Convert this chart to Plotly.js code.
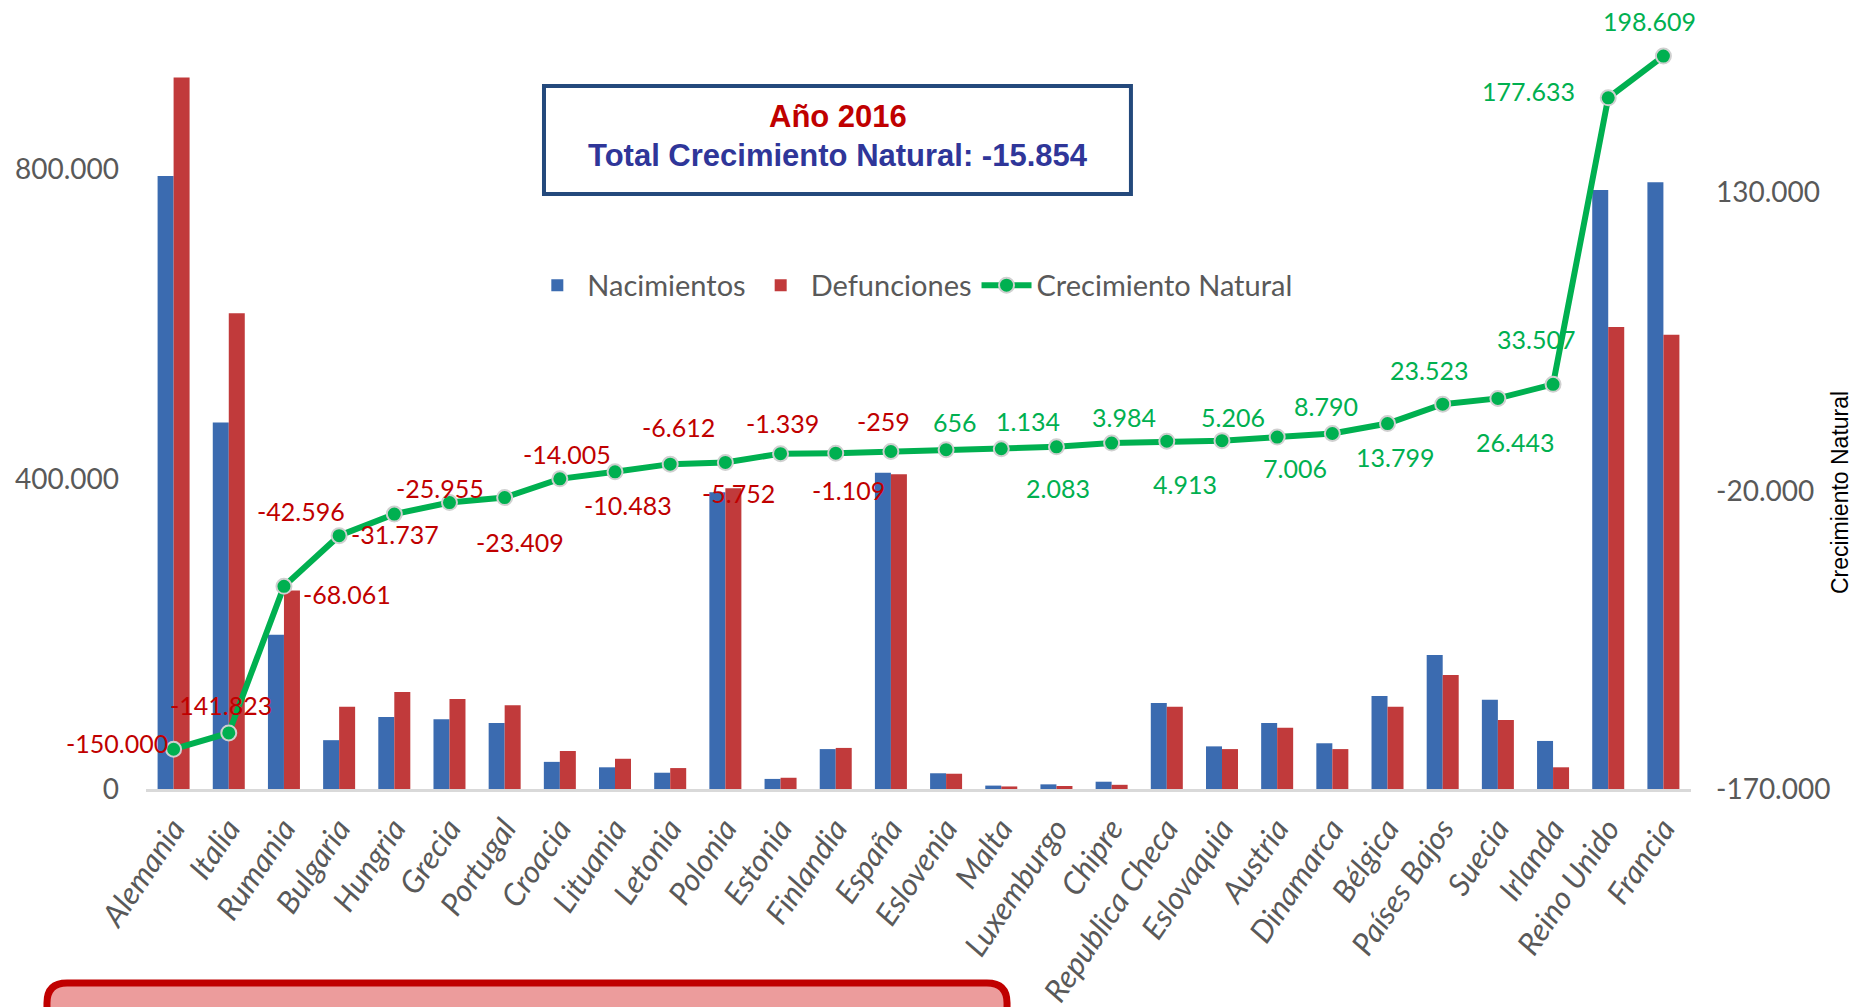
<!DOCTYPE html>
<html><head><meta charset="utf-8">
<script src="https://cdn.plot.ly/plotly-3.0.1.min.js"></script>
<style>html,body{margin:0;padding:0;background:#fff;} #chart{width:1852px;height:1007px;}</style>
</head><body><div id="chart"></div>
<script>
// ---------- data ----------
const paises = ['Alemania','Italia','Rumania','Bulgaria','Hungria','Grecia','Portugal','Croacia','Lituania','Letonia','Polonia','Estonia','Finlandia','España','Eslovenia','Malta','Luxemburgo','Chipre','Republica Checa','Eslovaquia','Austria','Dinamarca','Bélgica','Países Bajos','Suecia','Irlanda','Reino Unido','Francia'];
const nacimientos = [791000,473000,199000,63000,93000,90000,85000,35000,28000,21000,383000,13000,51500,408000,20300,4400,6000,9400,111000,55000,85000,59000,120000,173000,115000,62000,773000,783000];
const defunciones = [918000,614000,256000,106000,125000,116000,108000,49000,39000,27000,388000,14500,53000,406000,19700,3300,3900,5400,106000,51500,79000,51500,106000,147000,89000,28000,596000,586000];
const crecimiento = [-150000,-141823,-68061,-42596,-31737,-25955,-23409,-14005,-10483,-6612,-5752,-1339,-1109,-259,656,1134,2083,3984,4913,5206,7006,8790,13799,23523,26443,33507,177633,198609];
const ticksIzq = [0, 400000, 800000];
const ticksDer = [-170000, -20000, 130000];
const anio = 2016;

// style: pixel offset (dx, dy) of each data label from its point
const labelOffsets = [[-57,-6],[-8,-28],[63,8],[-38,-25],[1,20],[-9,-15],[15,44],[7,-25],[13,33],[8,-37],[13,31],[2,-31],[13,37],[-7,-31],[9,-28],[27,-28],[2,41],[12,-26],[18,43],[11,-24],[18,31],[-6,-28],[7,33],[-14,-34],[17,44],[-17,-45],[-80,-7],[-14,-35]];

function fmt(n){
  const s = Math.abs(n).toString().replace(/\B(?=(\d{3})+(?!\d))/g,'.');
  return (n<0?'-':'') + s;
}
const total = crecimiento.reduce((a,b)=>a+b,0);

const FONT = "Lato, 'Open Sans', sans-serif";
const GRAY = '#595959';
const RED = '#c00000';
const GREEN = '#00b050';

const traces = [
  {type:'bar', name:'Nacimientos', x:paises, y:nacimientos, marker:{color:'#3b6bb0'}, hoverinfo:'skip'},
  {type:'bar', name:'Defunciones', x:paises, y:defunciones, marker:{color:'#c13a3b'}, hoverinfo:'skip'},
  {type:'scatter', mode:'lines+markers', name:'Crecimiento Natural', x:paises, y:crecimiento, yaxis:'y2',
   line:{color:GREEN, width:6}, marker:{color:GREEN, size:15, line:{color:'#d0d0d0', width:2}}, hoverinfo:'skip'}
];

const annotations = crecimiento.map((v,i)=>({
  x: paises[i], y: v, xref:'x', yref:'y2', text: fmt(v), showarrow:false,
  xanchor:'center', yanchor:'middle', xshift: labelOffsets[i][0], yshift: -labelOffsets[i][1],
  font:{family:FONT, size:25, color: v<0 ? RED : GREEN}
}));
annotations.push(
  {xref:'paper', yref:'paper', x:0.4476, y:0.8739, text:'<b>Año '+anio+'</b>', showarrow:false,
   xanchor:'center', yanchor:'middle', font:{family:"'Liberation Sans', Arial, sans-serif", size:31, color:RED}},
  {xref:'paper', yref:'paper', x:0.4476, y:0.8244, text:'<b>Total Crecimiento Natural: '+fmt(total)+'</b>', showarrow:false,
   xanchor:'center', yanchor:'middle', font:{family:"'Liberation Sans', Arial, sans-serif", size:31, color:'#2f3699'}},
  {xref:'paper', yref:'paper', x:1.0964, y:0.386, text:'Crecimiento Natural', showarrow:false, textangle:-90,
   xanchor:'center', yanchor:'middle', font:{family:"'Liberation Sans', Arial, sans-serif", size:23, color:'#000'}}
);

// rounded box at bottom-left (paper units)
const bx0=-0.0641, bx1=0.5573, by0=-0.2523, by1=-0.34, rx=0.013, ry=0.026;
const boxPath = `M ${bx0},${by1} L ${bx0},${by0-ry} Q ${bx0},${by0} ${bx0+rx},${by0} L ${bx1-rx},${by0} Q ${bx1},${by0} ${bx1},${by0-ry} L ${bx1},${by1} Z`;

const layout = {
  width:1852, height:1007,
  margin:{l:146, r:161, t:20, b:218},
  paper_bgcolor:'#ffffff', plot_bgcolor:'#ffffff',
  font:{family:FONT, color:GRAY},
  barmode:'group', bargap:0.42, bargroupgap:0,
  showlegend:true,
  legend:{orientation:'h', x:0.496, xanchor:'center', y:0.655, yanchor:'middle',
          font:{family:FONT, size:29, color:GRAY}, bgcolor:'rgba(0,0,0,0)', itemwidth:50, tracegroupgap:0},
  xaxis:{type:'category', range:[-0.5, paises.length-0.5], autorange:false, tickangle:-56, showgrid:false, zeroline:false, showline:true, linecolor:'#d9d9d9', linewidth:3,
         ticks:'', tickfont:{family:FONT, size:31, color:GRAY, style:'italic'}, ticklabelstandoff:6},
  yaxis:{range:[0, 992258], autorange:false, showgrid:false, zeroline:false, showline:false, ticks:'',
         tickvals:ticksIzq, ticktext:ticksIzq.map(fmt), tickfont:{family:FONT, size:28, color:GRAY}, ticklabelstandoff:26},
  yaxis2:{range:[-170000, 216756], autorange:false, overlaying:'y', side:'right', showgrid:false, zeroline:false, showline:false, ticks:'',
         tickvals:ticksDer, ticktext:ticksDer.map(fmt), tickfont:{family:FONT, size:28, color:GRAY}, ticklabelstandoff:24},
  shapes:[
    {type:'rect', xref:'paper', yref:'paper', x0:0.2576, x1:0.6375, y0:0.7737, y1:0.9142,
     line:{color:'#24497c', width:4}, fillcolor:'rgba(255,255,255,1)', layer:'below'},
    {type:'path', xref:'paper', yref:'paper', path:boxPath, line:{color:'#c00000', width:7}, fillcolor:'#ec9c9c', layer:'above'}
  ],
  annotations: annotations
};

Plotly.newPlot('chart', traces, layout, {displayModeBar:false, staticPlot:true});
</script>
</body></html>
